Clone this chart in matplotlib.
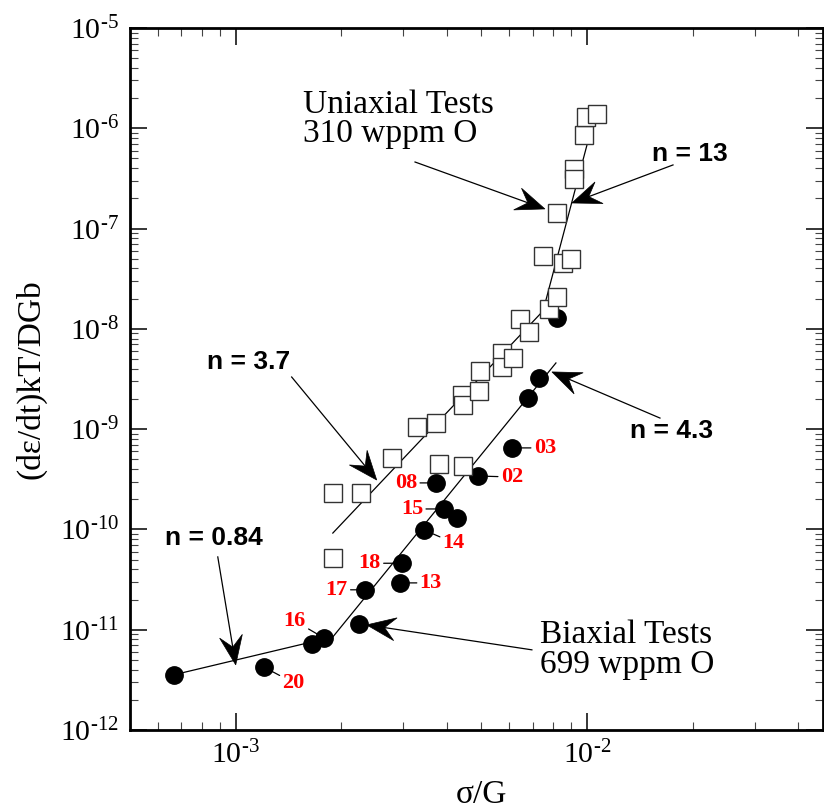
import numpy as np
import matplotlib

matplotlib.use("Agg")
import matplotlib.pyplot as plt
from matplotlib.patches import Polygon
from matplotlib.lines import Line2D
from matplotlib.transforms import IdentityTransform
from matplotlib.ticker import LogLocator, FuncFormatter, NullFormatter

# ------------------------------------------------------------------ данные

# одноосные испытания, 310 wppm O (открытые квадраты)
uni_x = [1.89e-3, 1.89e-3, 2.27e-3, 2.78e-3, 3.28e-3, 3.71e-3, 3.79e-3, 4.43e-3,
         4.40e-3, 4.43e-3, 4.92e-3, 4.96e-3, 5.72e-3, 5.72e-3, 6.15e-3, 6.44e-3,
         6.84e-3, 7.79e-3, 8.21e-3, 7.49e-3, 8.54e-3, 9.00e-3, 8.21e-3, 9.18e-3,
         9.18e-3, 9.80e-3, 9.93e-3, 1.068e-2]
uni_y = [5.2e-11, 2.31e-10, 2.31e-10, 5.16e-10, 1.05e-9, 1.15e-9, 4.5e-10, 4.3e-10,
         2.19e-9, 1.74e-9, 2.40e-9, 3.80e-9, 5.75e-9, 4.17e-9, 5.13e-9, 1.26e-8,
         9.3e-9, 1.58e-8, 2.08e-8, 5.33e-8, 4.54e-8, 4.98e-8, 1.43e-7, 3.93e-7,
         3.12e-7, 8.57e-7, 1.30e-6, 1.39e-6]

# двухосные испытания, 699 wppm O (закрашенные кружки)
biax_x = [6.66e-4, 1.20e-3, 1.65e-3, 1.78e-3, 2.25e-3, 2.33e-3, 2.93e-3, 2.97e-3,
          3.43e-3, 3.92e-3, 4.27e-3, 3.72e-3, 4.89e-3, 6.11e-3, 6.79e-3, 7.30e-3,
          8.22e-3]
biax_y = [3.55e-12, 4.26e-12, 7.2e-12, 8.3e-12, 1.14e-11, 2.5e-11, 2.93e-11, 4.6e-11,
          9.9e-11, 1.6e-10, 1.30e-10, 2.91e-10, 3.41e-10, 6.5e-10, 2.05e-9, 3.24e-9,
          1.28e-8]
biax_id = ["", "20", "", "16", "", "17", "13", "18",
           "14", "15", "", "08", "02", "03", "", "", ""]

# аппроксимирующие степенные зависимости (изломы)
uni_fit_x = [1.89e-3, 7.5e-3, 1.0e-2]
uni_fit_y = [9.2e-11, 1.51e-8, 6.8e-7]
biax_fit_x = [6.66e-4, 1.89e-3, 8.16e-3]
biax_fit_y = [3.55e-12, 8.47e-12, 4.57e-9]

# ------------------------------------------------------------------ оформление

plt.rcParams["font.family"] = "Liberation Serif"
plt.rcParams["mathtext.fontset"] = "custom"
plt.rcParams["mathtext.rm"] = "Liberation Serif"
plt.rcParams["mathtext.it"] = "Liberation Serif:italic"

W, H = 824, 811
fig = plt.figure(figsize=(W / 100, H / 100), dpi=100)
ax = fig.add_axes([130 / W, 1 - 730 / H, (823 - 130) / W, (730 - 28) / H])
ax.set_xscale("log")
ax.set_yscale("log")
ax.set_xlim(5e-4, 0.047)
ax.set_ylim(1e-12, 1e-5)

for s in ax.spines.values():
    s.set_linewidth(2.0)

fmt = FuncFormatter(lambda v, _: r"$10^{\text{-}%d}$" % round(-np.log10(v)))
for axis in (ax.xaxis, ax.yaxis):
    axis.set_major_locator(LogLocator(base=10, numticks=20))
    axis.set_minor_locator(LogLocator(base=10, subs=np.arange(2, 10), numticks=20))
    axis.set_major_formatter(fmt)
    axis.set_minor_formatter(NullFormatter())
ax.tick_params(which="both", direction="in", top=True, right=True)
ax.tick_params(which="major", length=12, width=1.1, labelsize=21.5, pad=8)
ax.tick_params(which="minor", length=6, width=0.8, color="#444444")

fig.text(31 / W, 1 - 379 / H, "(dε/dt)kT/DGb", rotation=90, ha="center",
         va="center", fontsize=24)
fig.text(481 / W, 1 - 803 / H, "σ/G", ha="center", va="baseline", fontsize=24)

# ------------------------------------------------------------------ данные на графике

ax.plot(uni_fit_x, uni_fit_y, color="black", lw=0.9, zorder=2)
ax.plot(biax_fit_x, biax_fit_y, color="black", lw=0.9, zorder=2)
ax.plot(biax_x, biax_y, "o", ms=12.5, color="black", zorder=3)
ax.plot(uni_x, uni_y, "s", ms=12.5, mfc="white", mec="#333333", mew=1.0, zorder=4)

# подписи номеров образцов (смещение в пикселях)
id_offsets = {
    "20": (30, -16), "16": (-29, 17), "17": (-28, 0), "13": (31, 0),
    "18": (-32, 0), "14": (30, -13), "15": (-32, 0), "08": (-30, 0),
    "02": (34, -1), "03": (33, 0),
}
for x, y, lab in zip(biax_x, biax_y, biax_id):
    if not lab:
        continue
    ax.annotate(lab, xy=(x, y), xytext=id_offsets[lab], textcoords="offset pixels",
                ha="center", va="center", color="red", fontweight="bold",
                fontsize=16, zorder=2,
                arrowprops=dict(arrowstyle="-", lw=0.9, color="black",
                                shrinkA=0, shrinkB=0))


def arrow(tail, tip, head=29, half=11.5, notch=18):
    """Стрелка в стиле Tecplot: тонкая линия и заострённый наконечник."""
    p0 = ax.transData.transform(tail)
    p1 = ax.transData.transform(tip)
    u = (p1 - p0) / np.hypot(*(p1 - p0))
    n = np.array([-u[1], u[0]])
    back = p1 - u * head
    nb = p1 - u * notch
    fig.add_artist(Line2D([p0[0], nb[0]], [p0[1], nb[1]], lw=0.9, color="black",
                          transform=IdentityTransform(), zorder=5))
    fig.add_artist(Polygon([p1, back + n * half, nb, back - n * half], closed=True,
                           fc="black", ec="black", lw=0.5,
                           transform=IdentityTransform(), zorder=5))


bold = dict(family="Liberation Sans", fontweight="bold", fontsize=19,
            ha="center", va="center")
ax.text(8.66e-4, 8.2e-11, "n = 0.84", **bold)
arrow((8.89e-4, 5.32e-11), (1.0e-3, 4.46e-12))
ax.text(1.089e-3, 4.68e-9, "n = 3.7", **bold)
arrow((1.443e-3, 3.31e-9), (2.52e-3, 3.11e-10))
ax.text(1.965e-2, 5.55e-7, "n = 13", **bold)
arrow((1.758e-2, 4.31e-7), (9.06e-3, 1.80e-7))
ax.text(1.746e-2, 9.6e-10, "n = 4.3", **bold)
arrow((1.614e-2, 1.29e-9), (7.95e-3, 3.72e-9))

ax.text(1.552e-3, 1.22e-6, "Uniaxial Tests\n310 wppm O", fontsize=24,
        ha="left", va="center", linespacing=0.93)
arrow((3.24e-3, 4.61e-7), (7.59e-3, 1.57e-7))
ax.text(7.35e-3, 6.3e-12, "Biaxial Tests\n699 wppm O", fontsize=24,
        ha="left", va="center", linespacing=0.95)
arrow((6.97e-3, 6.3e-12), (2.36e-3, 1.117e-11))

fig.savefig("out.png", dpi=100)
